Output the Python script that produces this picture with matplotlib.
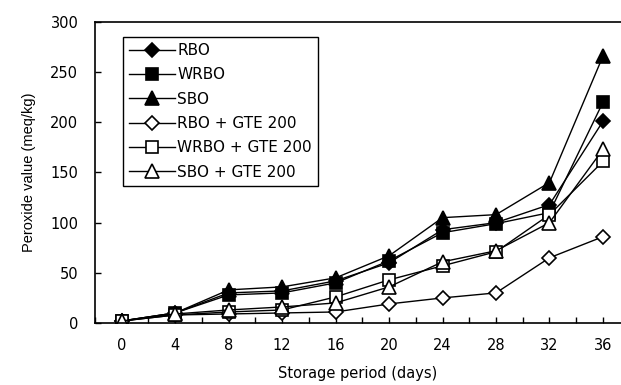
import matplotlib
matplotlib.use("Agg")
import matplotlib.pyplot as plt

plt.rcParams['font.family'] = ['DejaVu Sans']

days = [0, 4, 8, 12, 16, 20, 24, 28, 32, 36]
rbo = [2, 10, 30, 32, 42, 60, 93, 100, 118, 201]
wrbo = [2, 10, 28, 30, 40, 62, 90, 99, 110, 220]
sbo = [2, 10, 33, 36, 45, 67, 105, 108, 140, 266]
rbo_gte = [2, 8, 9, 10, 11, 19, 25, 30, 65, 86]
wrbo_gte = [2, 8, 11, 13, 26, 43, 57, 71, 108, 161]
sbo_gte = [2, 9, 13, 16, 20, 36, 61, 72, 100, 173]
labels = ["RBO", "WRBO", "SBO", "RBO + GTE 200", "WRBO + GTE 200", "SBO + GTE 200"]
yticks = [0, 50, 100, 150, 200, 250, 300]

fig = plt.figure(figsize=(6.21, 3.85), dpi=100)
ax = fig.add_axes([95/621, 1-323/385, 526/621, 301/385])

series = [rbo, wrbo, sbo, rbo_gte, wrbo_gte, sbo_gte]
markers = ['D', 's', '^', 'D', 's', '^']
sizes = [7.5, 9, 9.5, 7.5, 9, 9.5]
fills = ['black', 'black', 'black', 'white', 'white', 'white']
for vals, m, s, f, lab in zip(series, markers, sizes, fills, labels):
    ax.plot(days, vals, color='black', lw=1.0, marker=m, markersize=s,
            markerfacecolor=f, markeredgecolor='black', markeredgewidth=1.2,
            label=lab)

ax.set_xlim(-2, 37.35)
ax.set_ylim(0, 300)
ax.set_xticks(days)
ax.set_xticks([d + 2 for d in days[:-1]] + [-2], minor=True)
ax.set_yticks(yticks)
ax.tick_params(axis='both', direction='in', length=4, width=1, labelsize=10.5)
ax.tick_params(axis='y', pad=12)
ax.tick_params(axis='x', pad=11)
ax.tick_params(axis='x', which='minor', direction='in', length=4, width=1)
ax.spines['right'].set_visible(False)
for sp in ['left', 'bottom', 'top']:
    ax.spines[sp].set_linewidth(1.2)

ax.set_xlabel("Storage period (days)", fontsize=10.5, labelpad=9)
ax.set_ylabel("Peroxide value (meq/kg)", fontsize=10.5,
              family=['Liberation Sans', 'DejaVu Sans'], labelpad=10)

leg = ax.legend(loc='upper left', bbox_to_anchor=(0.053, 0.95), fontsize=11,
                frameon=True, fancybox=False, edgecolor='black', framealpha=1,
                handlelength=3.0, labelspacing=0.61, borderpad=0.4,
                handletextpad=0.15, borderaxespad=0)
leg.get_frame().set_linewidth(1.0)

fig.savefig("out.png", dpi=100)
